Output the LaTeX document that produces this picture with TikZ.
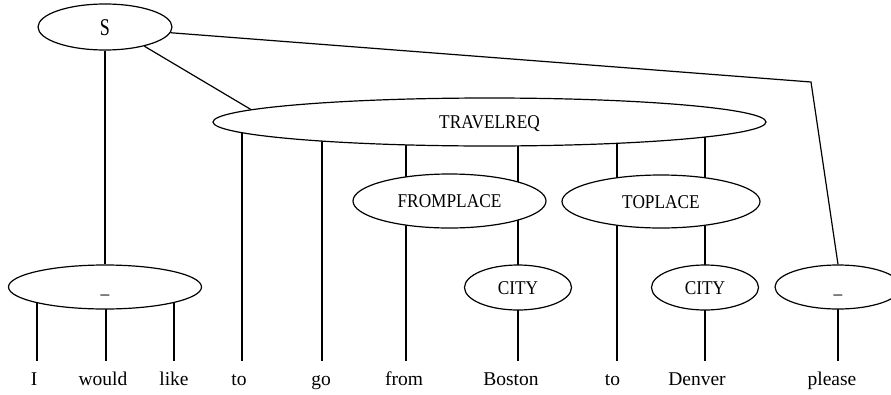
\documentclass[tikz,border=0pt]{standalone}
\usepackage{fontspec}
\usepackage{graphicx}
\setmainfont{Liberation Serif}
\usetikzlibrary{shapes.geometric}
\pgfdeclarelayer{background}
\pgfsetlayers{background,main}
% condensed capitals used inside the ovals
\newcommand{\caplabel}[1]{\scalebox{0.887}[1]{#1}}
\begin{document}
\begin{tikzpicture}[x=1pt,y=-1pt,
  oval/.style={ellipse, draw, line width=1.2pt, fill=white, inner sep=0pt,
    text height=13pt, text depth=0pt, font=\fontsize{19.5}{20}\selectfont},
  word/.style={anchor=base, inner xsep=0pt, inner ysep=10pt,
    text height=14pt, text depth=4pt, font=\fontsize{19.5}{20}\selectfont},
  edge/.style={line width=1.2pt}]
\useasboundingbox (0,0) rectangle (891,394);
\clip (0,0) rectangle (891,394);

% category ovals
\node[oval, minimum width=134pt, minimum height=46pt, text height=16pt,
  font=\fontsize{24}{26}\selectfont] (S) at (105,27) {\scalebox{0.75}[1]{S}};
\node[oval, minimum width=193pt, minimum height=44pt] (uleft) at (105,287) {\caplabel{\_}};
\node[oval, minimum width=553pt, minimum height=48pt] (trav) at (489.5,122) {\caplabel{TRAVELREQ}};
\node[oval, minimum width=193pt, minimum height=54pt] (fromp) at (449.5,201) {\caplabel{FROMPLACE}};
\node[oval, minimum width=198pt, minimum height=53pt] (top) at (661,201.5) {\caplabel{TOPLACE}};
\node[oval, minimum width=107pt, minimum height=45pt] (cityB) at (518,287.5) {\caplabel{CITY}};
\node[oval, minimum width=107pt, minimum height=45pt] (cityD) at (705,287.5) {\caplabel{CITY}};
\node[oval, minimum width=126pt, minimum height=44pt] (uright) at (838,287) {\caplabel{\_}};

% the words of the sentence
\node[word] (wI) at (34,385) {I};
\node[word] (wWould) at (103,385) {would};
\node[word] (wLike) at (174,385) {like};
\node[word] (wTo) at (239,385) {to};
\node[word] (wGo) at (321,385) {go};
\node[word] (wFrom) at (404,385) {from};
\node[word] (wBoston) at (511,385) {Boston};
\node[word] (wToB) at (612.5,385) {to};
\node[word] (wDenver) at (697,385) {Denver};
\node[word] (wPlease) at (832,385) {please};

% vertical columns of the tree
\coordinate (xI) at (37,0);
\coordinate (xWould) at (106,0);
\coordinate (xLike) at (174,0);
\coordinate (xTo) at (242,0);
\coordinate (xGo) at (322,0);
\coordinate (xFrom) at (406,0);
\coordinate (xBos) at (518,0);
\coordinate (xToB) at (617,0);
\coordinate (xDen) at (705,0);
\coordinate (bend) at (811,82);

% vertical branches, drawn behind the filled ovals
\begin{pgfonlayer}{background}
  \draw[edge] (uleft.center -| xI) -- (wI.north -| xI);
  \draw[edge] (uleft.center -| xWould) -- (wWould.north -| xWould);
  \draw[edge] (uleft.center -| xLike) -- (wLike.north -| xLike);
  \draw[edge] (trav.center -| xTo) -- (wTo.north -| xTo);
  \draw[edge] (trav.center -| xGo) -- (wGo.north -| xGo);
  \draw[edge] (trav.center -| xFrom) -- (fromp.center -| xFrom);
  \draw[edge] (fromp.center -| xFrom) -- (wFrom.north -| xFrom);
  \draw[edge] (trav.center -| xBos) -- (fromp.center -| xBos);
  \draw[edge] (fromp.center -| xBos) -- (cityB.center);
  \draw[edge] (cityB.center) -- (wBoston.north -| cityB);
  \draw[edge] (trav.center -| xToB) -- (top.center -| xToB);
  \draw[edge] (top.center -| xToB) -- (wToB.north -| xToB);
  \draw[edge] (trav.center -| xDen) -- (top.center -| xDen);
  \draw[edge] (top.center -| xDen) -- (cityD.center);
  \draw[edge] (cityD.center) -- (wDenver.north -| cityD);
  \draw[edge] (uright.center) -- (wPlease.north -| uright);
\end{pgfonlayer}

% branches from the root
\draw[edge] (S.south) -- (uleft.north);
\draw[edge] (S.-26) -- (trav.177.5);
\draw[edge] (S.-5) -- (bend) -- (uright.north);
\end{tikzpicture}
\end{document}
